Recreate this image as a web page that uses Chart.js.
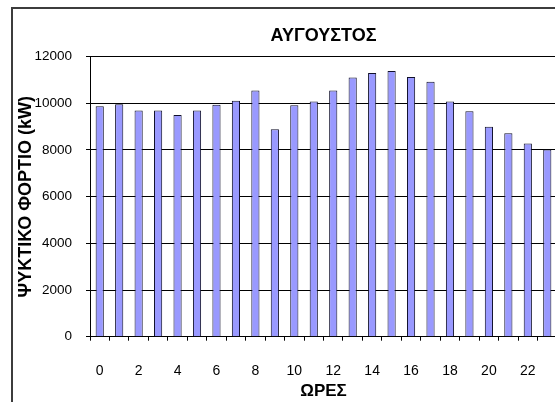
<!DOCTYPE html>
<html>
<head>
<meta charset="utf-8">
<script src="https://cdn.jsdelivr.net/npm/chart.js@4.4.1/dist/chart.umd.min.js"></script>
<style>
  html, body { margin: 0; padding: 0; background: #ffffff; overflow: hidden; width: 555px; height: 402px; }
  canvas { display: block; }
</style>
</head>
<body>
<canvas id="chart" width="636" height="402"></canvas>
<script>
// Hourly cooling load for August (kW)
const hours = ['0','1','2','3','4','5','6','7','8','9','10','11','12','13','14','15','16','17','18','19','20','21','22','23'];
const coolingLoad = [9870, 9960, 9690, 9690, 9500, 9690, 9940, 10110, 10550, 8890, 9920, 10080,
                     10550, 11100, 11300, 11380, 11130, 10920, 10080, 9660, 8990, 8720, 8280, 8020];
const yMin = 0;
const yMax = 12000;
const yStep = 2000;

const chartTitle = 'ΑΥΓΟΥΣΤΟΣ';
const yTitle = 'ΨΥΚΤΙΚΟ ΦΟΡΤΙΟ (kW)';
const xTitle = 'ΩΡΕΣ';

const sans = 'Arial, "Liberation Sans", sans-serif';

// Grey frame around the whole chart
const frame = {
  id: 'frame',
  beforeDraw(chart) {
    const ctx = chart.ctx;
    ctx.save();
    ctx.strokeStyle = '#3c3c3c';
    ctx.lineWidth = 2;
    ctx.strokeRect(12, 8, 700, 500);
    ctx.restore();
  }
};

new Chart(document.getElementById('chart'), {
  type: 'bar',
  data: {
    labels: hours,
    datasets: [{
      data: coolingLoad,
      backgroundColor: '#9999ff',
      borderColor: '#10102a',
      borderWidth: 1,
      barPercentage: 0.42,
      categoryPercentage: 1.0
    }]
  },
  options: {
    responsive: false,
    animation: false,
    devicePixelRatio: 1,
    layout: { padding: { left: 0, right: 79, top: 0, bottom: 0 } },
    plugins: {
      legend: { display: false },
      tooltip: { enabled: false },
      title: {
        display: true,
        fullSize: false,
        text: chartTitle,
        color: '#000',
        font: { family: sans, size: 18, weight: 'bold' },
        padding: { top: 25, bottom: 10 }
      }
    },
    scales: {
      x: {
        offset: true,
        grid: { display: true, drawOnChartArea: false, drawTicks: true, tickLength: 4, color: '#000', offset: true },
        border: { display: true, color: '#000', width: 1 },
        ticks: {
          autoSkip: false, maxRotation: 0, minRotation: 0, padding: 22,
          color: '#000', font: { family: sans, size: 14 },
          callback: (v, i) => (i % 2 === 0 ? hours[i] : '')
        },
        title: {
          display: true, text: xTitle, color: '#000',
          font: { family: sans, size: 17, weight: 'bold' },
          padding: { top: 0, bottom: 0 }
        },
        afterFit(scale) { scale.height = 65.3; }
      },
      y: {
        min: yMin,
        max: yMax,
        grid: { color: '#000', lineWidth: 1, drawTicks: true, tickLength: 4 },
        border: { display: true, color: '#000', width: 1 },
        ticks: {
          stepSize: yStep, padding: 14, color: '#000',
          font: { family: sans, size: 13.5 },
          callback: (v) => String(v)
        },
        title: {
          display: true, text: yTitle, color: '#000',
          font: { family: sans, size: 18, weight: 'bold' },
          padding: { top: 15.7, bottom: 0 }
        },
        afterFit(scale) { scale.width = 90; }
      }
    }
  },
  plugins: [frame]
});
</script>
</body>
</html>
